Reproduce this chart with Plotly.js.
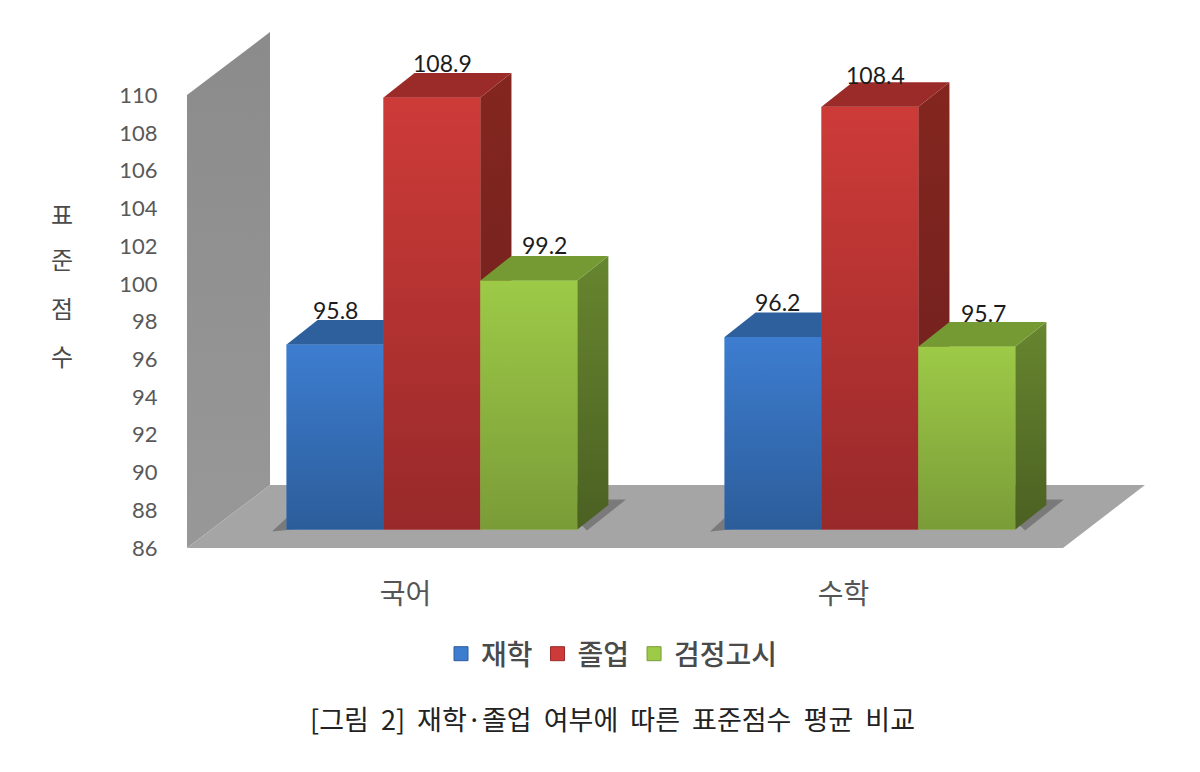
<!DOCTYPE html>
<html><head><meta charset="utf-8">
<script src="https://cdn.plot.ly/plotly-3.0.1.min.js"></script>
<style>html,body{margin:0;padding:0;background:#fff}</style></head>
<body><div id="chart" style="width:1200px;height:772px"></div>
<script>
const categories = ['국어', '수학'];
const seriesNames = ['재학', '졸업', '검정고시'];
const enrolled = [95.8, 96.2];
const graduated = [108.9, 108.4];
const qualified = [99.2, 95.7];
const yTicks = [86, 88, 90, 92, 94, 96, 98, 100, 102, 104, 106, 108, 110];
const captionText = '[그림  2]  재학·졸업  여부에  따른  표준점수  평균  비교';
const yTitleChars = ['표', '준', '점', '수'];

const seriesValues = [enrolled, graduated, qualified];
const frontColors = [['#3d7dd0', '#2c5d9a'], ['#cd3b38', '#98292a'], ['#9dca47', '#7a9c38']];
const sideColors = [['#2a5590', '#23487a'], ['#84261f', '#6c1f1f'], ['#67862f', '#4b6022']];
const topColors = ['#2f609e', '#9a2b29', '#759a33'];
const labelShift = [[[0, 35], [4, 35]], [[10, 34], [5, 32]], [[16, 35], [17, 33]]];

// layout geometry
const L = 187, T = 25, W = 958, H = 523;
const xUnit = 438, yUnit = 18.87;
const barZero = 432, labelZero = 405.5;
const barBaseDrop = 18.5;
const labelRangeY = [86, 86 + H / yUnit];
const barRangeY = [86 - barBaseDrop / yUnit, 86 - barBaseDrop / yUnit + H / yUnit];
const labelRangeX = [(L - labelZero) / xUnit, (L + W - labelZero) / xUnit];
const barRangeX = [(L - barZero) / xUnit, (L + W - barZero) / xUnit];
const barW = 0.2213, depthX = 31 / xUnit, depthY = 24.5 / yUnit;
const xPos = categories.map((c, i) => i);

const traces = [];
function poly(xs, ys, xa, ya, opts) {
  xs = xs.concat(xs[0]); ys = ys.concat(ys[0]);
  traces.push(Object.assign({type: 'scatter', mode: 'none', x: xs, y: ys, xaxis: xa, yaxis: ya,
    fill: 'toself', showlegend: false, hoverinfo: 'skip'}, opts));
}
function vgrad(top, bottom) {
  return {type: 'vertical', colorscale: [[0, bottom], [1, top]]};
}
// wall and floor, on the axis that carries the tick labels
const x0 = labelRangeX[0], x1 = labelRangeX[1];
const wallDX = 83 / xUnit, wallDY = 63 / yUnit;
poly([x0, x0, x0 + wallDX, x0 + wallDX], [86, 110, 110 + wallDY, 86 + wallDY], 'x', 'y',
  {fillgradient: vgrad('#8b8b8b', '#989898')});
poly([x0, x0 + wallDX, x1, x1 - 82 / xUnit], [86, 86 + wallDY, 86 + wallDY, 86], 'x', 'y',
  {fillcolor: '#a5a5a5'});
// floor shadows
xPos.forEach(p => {
  const gx = p + (barZero - labelZero) / xUnit;
  const sy = 86 + barBaseDrop / yUnit;
  poly([gx - 160 / xUnit, gx - 145 / xUnit, gx + 140 / xUnit, gx + 155 / xUnit, gx + 194 / xUnit, gx + 170 / xUnit],
    [sy - 2 / yUnit, sy + 12 / yUnit, sy + 14 / yUnit, sy - 1 / yUnit, sy + 30 / yUnit, sy + 30 / yUnit], 'x', 'y',
    {fillcolor: 'rgba(70,70,70,0.45)'});
});

// bars, each series in its own overlaid subplot so nearer bars cover farther ones
seriesValues.forEach((vals, s) => {
  const ya = 'y' + (s + 2);
  const offset = -1.5 * barW + s * barW;
  traces.push({type: 'bar', name: seriesNames[s], x: xPos, y: vals.map(v => v - 86), base: 86,
    width: barW, offset: offset, xaxis: 'x2', yaxis: ya, hoverinfo: 'skip', showlegend: false,
    marker: {color: frontColors[s][0], line: {width: 0}}});
  xPos.forEach((p, i) => {
    const v = vals[i], a = p + offset, b = a + barW;
    poly([a, b, b, a], [86, 86, v, v], 'x2', ya, {fillgradient: vgrad(frontColors[s][0], frontColors[s][1])});
    poly([b, b + depthX, b + depthX, b], [86, 86 + depthY, v + depthY, v], 'x2', ya,
      {fillgradient: vgrad(sideColors[s][0], sideColors[s][1])});
    poly([a, a + depthX, b + depthX, b], [v, v + depthY, v + depthY, v], 'x2', ya, {fillcolor: topColors[s]});
  });
});
// legend keys
seriesNames.forEach((n, s) => traces.push({type: 'scatter', mode: 'markers', name: n, x: [null], y: [null],
  xaxis: 'x', yaxis: 'y', hoverinfo: 'skip',
  marker: {symbol: 'square', size: 14, color: frontColors[s][0], line: {width: 1, color: frontColors[s][1]}}}));

// value labels
const annotations = [];
seriesValues.forEach((vals, s) => vals.forEach((v, i) => {
  annotations.push({x: xPos[i] + (-1 + s) * barW, y: v, xref: 'x2', yref: 'y' + (s + 2),
    text: v.toFixed(1), showarrow: false, xanchor: 'center', yanchor: 'middle',
    xshift: labelShift[s][i][0], yshift: labelShift[s][i][1],
    font: {family: 'Lato, sans-serif', size: 23, color: '#1c1c1c'}}); }));
// vertical axis title
const titleY = [213, 258, 307, 355];
yTitleChars.forEach((c, i) => annotations.push({xref: 'paper', yref: 'paper', showarrow: false,
  x: (62 - L) / W, y: 1 - (titleY[i] - T) / H, xanchor: 'center', yanchor: 'middle', text: c,
  font: {family: '"Noto Sans CJK KR", sans-serif', size: 24, weight: 400, color: '#4a4a4a'}}));
// caption
annotations.push({xref: 'paper', yref: 'paper', showarrow: false, x: (612 - L) / W, y: 1 - (718 - T) / H,
  xanchor: 'center', yanchor: 'middle', text: captionText,
  font: {family: '"Noto Sans CJK KR", sans-serif', size: 27, weight: 400, color: '#222222'}});

const hiddenAxis = r => ({visible: false, range: r, fixedrange: true});
const layout = {
  width: 1200, height: 772, paper_bgcolor: '#fff', plot_bgcolor: 'rgba(0,0,0,0)',
  margin: {l: L, t: T, r: 1200 - L - W, b: 772 - T - H, pad: 0},
  xaxis: {range: labelRangeX, tickmode: 'array', tickvals: xPos, ticktext: categories, showgrid: false,
    zeroline: false, showline: false, ticks: 'outside', ticklen: 21, tickcolor: 'rgba(0,0,0,0)',
    tickfont: {family: '"Noto Sans CJK KR", sans-serif', size: 28, color: '#555555'}},
  yaxis: {range: labelRangeY, tickmode: 'array', tickvals: yTicks, ticktext: yTicks.map(String), showgrid: false,
    zeroline: false, showline: false, ticks: 'outside', ticklen: 24, tickcolor: 'rgba(0,0,0,0)',
    tickfont: {family: 'Lato, sans-serif', size: 22, color: '#595959'}},
  xaxis2: Object.assign(hiddenAxis(barRangeX), {overlaying: 'x'}),
  yaxis2: Object.assign(hiddenAxis(barRangeY), {overlaying: 'y'}),
  yaxis3: Object.assign(hiddenAxis(barRangeY), {overlaying: 'y'}),
  yaxis4: Object.assign(hiddenAxis(barRangeY), {overlaying: 'y'}),
  showlegend: true,
  legend: {orientation: 'h', x: (441 - L) / W, y: 1 - (629 - T) / H, xanchor: 'left', yanchor: 'top',
    itemwidth: 30, bgcolor: 'rgba(0,0,0,0)', traceorder: 'normal',
    font: {family: '"Noto Sans CJK KR", sans-serif', size: 28, weight: 500, color: '#4a4a4a'}},
  annotations: annotations
};
Plotly.newPlot('chart', traces, layout, {displayModeBar: false, staticPlot: true});
</script></body></html>
